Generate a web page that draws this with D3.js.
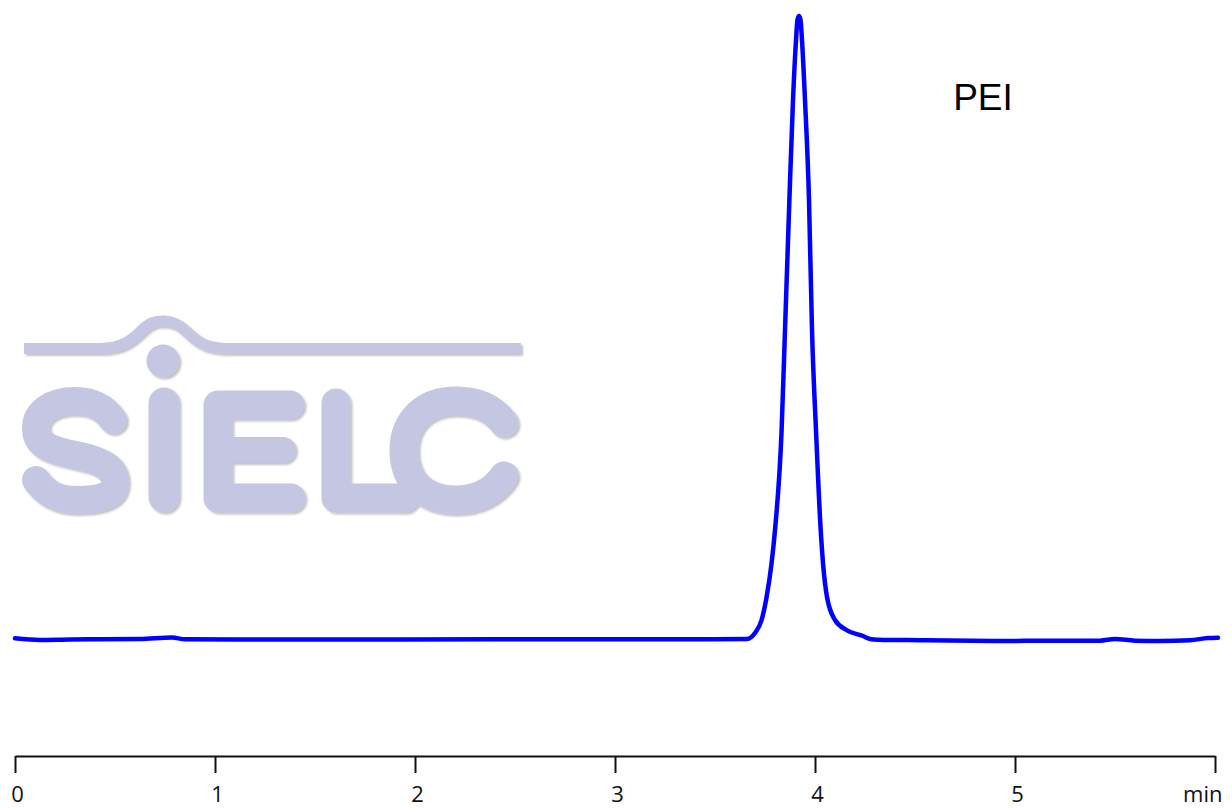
<!DOCTYPE html>
<meta charset="utf-8">
<style>
body { margin: 0; background: #fff; }
.axis text { font-family: "Open Sans", sans-serif; font-size: 22px; fill: #111; }
.axis path, .axis line { stroke: #111; }
.logo path, .logo circle { fill: none; stroke: #c5c6e2; stroke-linejoin: round; }
</style>
<body>
<svg width="1232" height="808"></svg>
<script src="https://cdn.jsdelivr.net/npm/d3@7"></script>
<script>

// retention time (min) and detector signal (arbitrary units)
var times = [0, 0.125, 0.275, 0.425, 0.625, 0.785, 0.85, 1.425, 2.425, 3.425,
  3.66, 3.70, 3.733, 3.758, 3.783, 3.80, 3.833, 3.85, 3.872, 3.89, 3.905, 3.9125, 3.92,
  3.9275, 3.935, 3.95, 3.97, 3.985, 4.005, 4.0285, 4.04, 4.06, 4.10, 4.158, 4.24, 4.275,
  4.315, 4.525, 4.925, 5.175, 5.425, 5.5, 5.6, 5.725, 5.875, 5.965, 6.015];
var signal = [0.11, -0.16, -0.08, -0.05, 0, 0.24, -0.05, -0.08, -0.05, -0.05,
  0, 0.96, 3.05, 6.74, 12.2, 17.5, 33.5, 49.6, 70.5, 86.5, 96.1, 99.4, 100,
  99.4, 96.1, 86.5, 70.5, 49.6, 33.5, 17.5, 12.2, 6.74, 3.05, 1.44, 0.48, 0,
  -0.11, -0.2, -0.32, -0.27, -0.27, 0, -0.27, -0.32, -0.2, 0.16, 0.21];

var tickValues = [0, 1, 2, 3, 4, 5, 6];
var tickLabels = ["0", "1", "2", "3", "4", "5", "min"];
var peakName = "PEI";

var svg = d3.select("svg");

var x = d3.scaleLinear().domain([0, 6]).range([15, 1215]);
var y = d3.scaleLinear().domain([0, 100]).range([639, 16]);

// watermark logo
var defs = svg.append("defs");
defs.append("filter").attr("id", "shadow")
  .append("feDropShadow")
    .attr("dx", 2).attr("dy", 2).attr("stdDeviation", 1.2)
    .attr("flood-color", "#777").attr("flood-opacity", 0.45);

var logo = svg.append("g").attr("class", "logo").attr("filter", "url(#shadow)");

logo.append("path")
    .attr("d", "M24,348.5 L100,348.5 C122,348.5 132,340 142,330 C150,322 156,321 163,321 C170,321 178,323 186,331 C196,341 205,348.5 228,348.5 L521,348.5")
    .attr("stroke-width", 11);
logo.append("circle")
    .attr("cx", 163).attr("cy", 361).attr("r", 16.5)
    .style("fill", "#c5c6e2").style("stroke", "none");
// S
logo.append("path")
    .attr("d", "M113,420 C104,407 92,401 75,401 C52,401 36,412 36,428 C36,446 52,450 75,455 C100,460 115,467 115,482 C115,496 100,500 77,500 C58,500 46,494 36,480")
    .attr("stroke-width", 28).attr("stroke-linecap", "round");
// i
logo.append("path")
    .attr("d", "M164,403 L164,497")
    .attr("stroke-width", 31).attr("stroke-linecap", "round");
// E
logo.append("path")
    .attr("d", "M290,405 L218,405 L218,498 L291,498")
    .attr("stroke-width", 29).attr("stroke-linecap", "round");
logo.append("path")
    .attr("d", "M218,450 L283,450")
    .attr("stroke-width", 26).attr("stroke-linecap", "round");
// L
logo.append("path")
    .attr("d", "M336,403 L336,498 L405,498")
    .attr("stroke-width", 29).attr("stroke-linecap", "round");
// C
logo.append("path")
    .attr("d", "M504,423 C492,407 474,401 456,401 C423,401 404,422 404,450 C404,480 423,500 456,500 C476,500 493,492 504,476")
    .attr("stroke-width", 29).attr("stroke-linecap", "round");

// axis
var axis = svg.append("g")
    .attr("class", "axis")
    .attr("transform", "translate(0,756)")
    .call(d3.axisBottom(x)
      .tickValues(tickValues)
      .tickSize(17)
      .tickSizeOuter(0)
      .tickFormat(function(d, i) { return tickLabels[i]; }));
axis.select(".domain").attr("stroke-width", 2);
axis.selectAll(".tick line").attr("stroke-width", 2);
axis.selectAll(".tick text")
    .attr("y", 46).attr("dy", 0).attr("dx", 2)
    .filter(function(d) { return d === 6; })
    .attr("text-anchor", "end").attr("dx", 7);

// chromatogram trace
var line = d3.line()
    .x(function(d, i) { return x(times[i]); })
    .y(function(d) { return y(d); })
    .curve(d3.curveMonotoneX);

svg.append("path")
    .datum(signal)
    .attr("d", line)
    .attr("fill", "none")
    .attr("stroke", "#0000ff")
    .attr("stroke-width", 4.5)
    .attr("stroke-linejoin", "round")
    .attr("stroke-linecap", "round");

svg.append("text")
    .attr("x", 983).attr("y", 110)
    .attr("text-anchor", "middle")
    .style("font-family", "Liberation Sans, Arial, sans-serif")
    .style("font-size", "37px")
    .text(peakName);

</script>
</body>
